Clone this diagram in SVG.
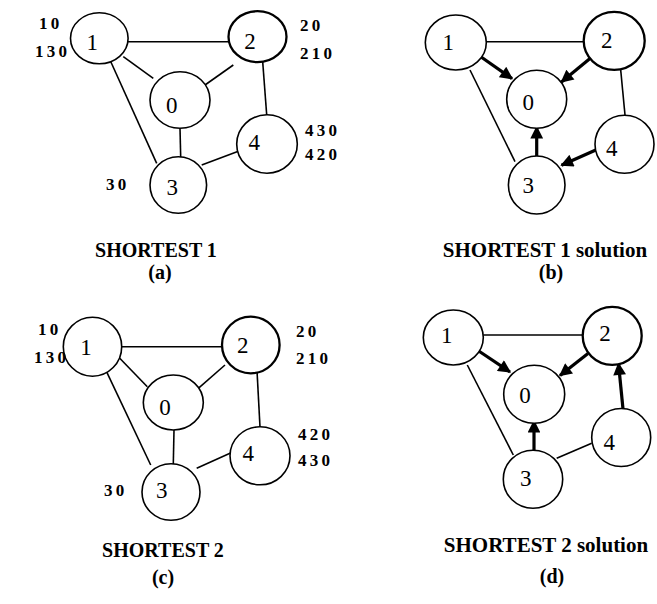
<svg xmlns="http://www.w3.org/2000/svg" width="657" height="604" viewBox="0 0 657 604">
<style>
.n{fill:#fff;stroke:#000;stroke-width:1.6}
.n2{fill:#fff;stroke:#000;stroke-width:2.3}
.e{stroke:#000;stroke-width:1.6;fill:none}
.a{stroke:#000;stroke-width:3.2;fill:none;marker-end:url(#ah)}
.nl{font-family:"Liberation Serif",serif;font-size:23px;text-anchor:middle}
.cl{font-family:"Liberation Serif",serif;font-size:17px;font-weight:bold;word-spacing:-1px}
.t{font-family:"Liberation Serif",serif;font-size:20px;font-weight:bold;text-anchor:middle}
.ts{font-family:"Liberation Serif",serif;font-size:21px;font-weight:bold;text-anchor:middle}
</style>
<defs>
<marker id="ah" viewBox="0 0 10 10" refX="9" refY="5" markerWidth="4.4" markerHeight="4" orient="auto" markerUnits="strokeWidth">
<path d="M0,0 L10,5 L0,10 z" fill="#000"/>
</marker>
</defs>
<rect width="657" height="604" fill="#fff"/>
<g id="connectors">
<line class="e" x1="128" y1="41.7" x2="229" y2="41.7"/>
<line class="e" x1="123.3" y1="56.7" x2="153.3" y2="78.3"/>
<line class="e" x1="233.3" y1="65" x2="205" y2="85"/>
<line class="e" x1="110" y1="60" x2="156.7" y2="163.3"/>
<line class="e" x1="180" y1="128.3" x2="180.7" y2="157"/>
<line class="e" x1="262.7" y1="61.7" x2="266.7" y2="115"/>
<line class="e" x1="201.7" y1="165" x2="241.7" y2="150"/>
<line class="e" x1="486" y1="41.7" x2="585" y2="41.7"/>
<line class="e" x1="470" y1="70" x2="515" y2="161.7"/>
<line class="e" x1="620.7" y1="70" x2="625" y2="115"/>
<line class="a" x1="479" y1="55.5" x2="512" y2="78.6"/>
<line class="a" x1="590" y1="58.5" x2="561.5" y2="82"/>
<line class="a" x1="536.7" y1="156" x2="536.7" y2="127"/>
<line class="a" x1="598" y1="149" x2="561.5" y2="165.3"/>
<line class="e" x1="121.7" y1="346.7" x2="222.3" y2="346.7"/>
<line class="e" x1="118.3" y1="356.7" x2="147.3" y2="386.7"/>
<line class="e" x1="225" y1="365" x2="198.3" y2="388.3"/>
<line class="e" x1="105" y1="368.3" x2="150.7" y2="465"/>
<line class="e" x1="174" y1="430" x2="173.3" y2="464"/>
<line class="e" x1="256.7" y1="365" x2="260" y2="427"/>
<line class="e" x1="196.7" y1="468.3" x2="233.3" y2="451.7"/>
<line class="e" x1="483.3" y1="335" x2="583.3" y2="335"/>
<line class="e" x1="467.3" y1="365" x2="513.3" y2="455"/>
<line class="e" x1="556.7" y1="458.3" x2="591.7" y2="443.3"/>
<line class="a" x1="478" y1="350.5" x2="510" y2="372"/>
<line class="a" x1="588" y1="353.5" x2="560" y2="375.5"/>
<line class="a" x1="534" y1="450.5" x2="534" y2="421"/>
<line class="a" x1="623" y1="409" x2="618.5" y2="363.5"/>
</g>
<g id="a1"><ellipse class="n" cx="99.3" cy="38.3" rx="28.8" ry="25.5"/><text class="nl" x="92.3" y="49.5">1</text></g>
<g id="a2"><ellipse class="n2" cx="257.5" cy="36.7" rx="29" ry="25.5"/><text class="nl" x="250" y="48.5">2</text></g>
<g id="a0"><ellipse class="n" cx="180" cy="100" rx="30" ry="28.3"/><text class="nl" x="171.7" y="112.8">0</text></g>
<g id="a4"><ellipse class="n" cx="267" cy="144" rx="30.3" ry="29.2"/><text class="nl" x="254.3" y="149.5">4</text></g>
<g id="a3"><ellipse class="n" cx="178.3" cy="185" rx="28.3" ry="28.3"/><text class="nl" x="172.3" y="194.5">3</text></g>
<g id="b1"><ellipse class="n" cx="455.8" cy="42.5" rx="30.5" ry="27.5"/><text class="nl" x="448.3" y="49.5">1</text></g>
<g id="b2"><ellipse class="n2" cx="614.2" cy="40.8" rx="30.5" ry="29"/><text class="nl" x="606.7" y="47.8">2</text></g>
<g id="b0"><ellipse class="n" cx="536.7" cy="99.2" rx="30" ry="29"/><text class="nl" x="528.3" y="109.5">0</text></g>
<g id="b4"><ellipse class="n" cx="624.5" cy="144.2" rx="29.5" ry="29"/><text class="nl" x="611.7" y="156">4</text></g>
<g id="b3"><ellipse class="n" cx="536.7" cy="185" rx="28.3" ry="29"/><text class="nl" x="528.3" y="192.8">3</text></g>
<g id="c1"><ellipse class="n" cx="92.5" cy="346.7" rx="29.2" ry="29.5"/><text class="nl" x="86" y="354.5">1</text></g>
<g id="c2"><ellipse class="n2" cx="250.8" cy="345" rx="28.8" ry="28.3"/><text class="nl" x="242.7" y="352.8">2</text></g>
<g id="c0"><ellipse class="n" cx="173.3" cy="402.5" rx="30" ry="27.5"/><text class="nl" x="165" y="414.5">0</text></g>
<g id="c4"><ellipse class="n" cx="260" cy="455.8" rx="30" ry="29"/><text class="nl" x="248.3" y="461">4</text></g>
<g id="c3"><ellipse class="n" cx="171" cy="492" rx="29" ry="28.3"/><text class="nl" x="161.7" y="497.8">3</text></g>
<g id="d1"><ellipse class="n" cx="453.3" cy="337.5" rx="30" ry="27.5"/><text class="nl" x="446.7" y="342.8">1</text></g>
<g id="d2"><ellipse class="n2" cx="612.2" cy="335.8" rx="29.5" ry="29"/><text class="nl" x="605" y="341">2</text></g>
<g id="d0"><ellipse class="n" cx="534.2" cy="394.2" rx="30.5" ry="29"/><text class="nl" x="525" y="402.8">0</text></g>
<g id="d4"><ellipse class="n" cx="621.2" cy="437.5" rx="29.5" ry="29"/><text class="nl" x="609.3" y="449.5">4</text></g>
<g id="d3"><ellipse class="n" cx="533" cy="479.2" rx="29.7" ry="29"/><text class="nl" x="525.7" y="486">3</text></g>
<g id="labels">
<text class="cl" x="39" y="29">1 0</text>
<text class="cl" x="35" y="57">1 3 0</text>
<text class="cl" x="300" y="31">2 0</text>
<text class="cl" x="300" y="59">2 1 0</text>
<text class="cl" x="305" y="136">4 3 0</text>
<text class="cl" x="305" y="160">4 2 0</text>
<text class="cl" x="106" y="190">3 0</text>
<text class="cl" x="38" y="335">1 0</text>
<text class="cl" x="34" y="363">1 3 0</text>
<text class="cl" x="296" y="337">2 0</text>
<text class="cl" x="296" y="364">2 1 0</text>
<text class="cl" x="298" y="440">4 2 0</text>
<text class="cl" x="298" y="466">4 3 0</text>
<text class="cl" x="104" y="496">3 0</text>
</g>
<g id="titles">
<text class="t" x="156" y="257">SHORTEST 1</text>
<text class="t" x="160" y="279">(a)</text>
<text class="ts" x="545" y="257">SHORTEST 1 solution</text>
<text class="t" x="551" y="279">(b)</text>
<text class="t" x="163" y="557">SHORTEST 2</text>
<text class="t" x="163" y="584">(c)</text>
<text class="ts" x="546" y="552">SHORTEST 2 solution</text>
<text class="t" x="552" y="583">(d)</text>
</g>
</svg>
